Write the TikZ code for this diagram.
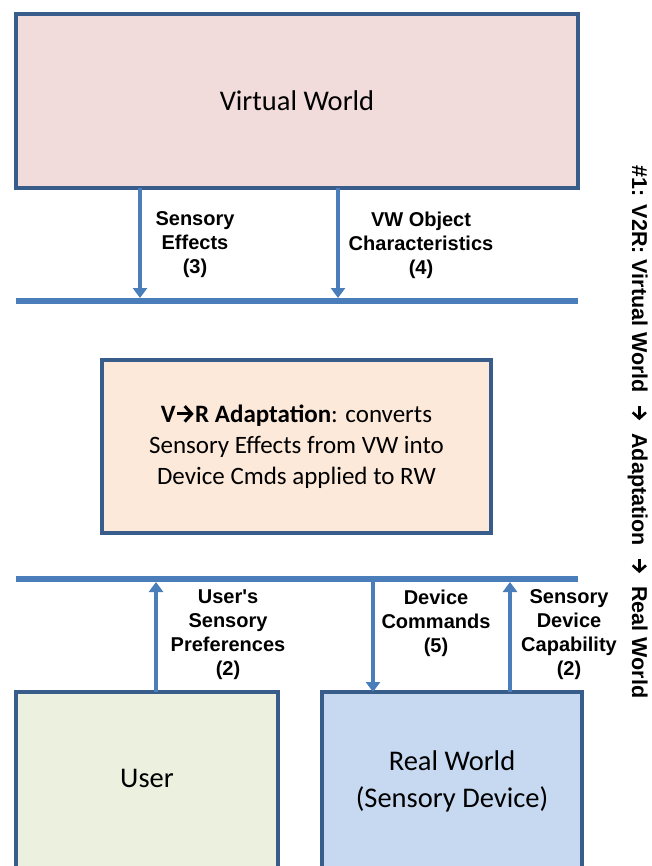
\documentclass[tikz,border=0pt]{standalone}
\usepackage{fontspec}
\setmainfont{Carlito}
\newfontfamily\lblfont{Liberation Sans}
\usepackage{xcolor}
\usetikzlibrary{arrows.meta,positioning}

\definecolor{boxline}{HTML}{385D8A}
\definecolor{busblue}{HTML}{4A7EBB}
\definecolor{vwfill}{HTML}{F2DCDB}
\definecolor{adfill}{HTML}{FDE9D9}
\definecolor{userfill}{HTML}{EBF1DE}
\definecolor{rwfill}{HTML}{C6D9F1}
\newcommand{\rarr}{\tikz[baseline=-0.34em]\draw[line width=0.12em, -{Straight Barb[length=0.28em,width=0.62em]}] (0,0) -- (0.66em,0);}

\begin{document}
\begin{tikzpicture}[x=1pt,y=-1pt,
		box/.style={draw=boxline, line width=4.5pt, inner sep=0pt, outer sep=0pt},
		bigtext/.style={font=\fontsize{28.5}{37}\selectfont, align=center},
		bus/.style={draw=busblue, line width=6pt},
		flow/.style={draw=busblue, line width=4pt, -{Triangle[width=14pt,length=10pt]}},
		lbl/.style={font=\lblfont\bfseries\fontsize{20}{24}\selectfont, align=center}]
		\useasboundingbox (0,0) rectangle (651,866);
		\clip (0,0) rectangle (651,866);

		\node[box, fill=vwfill, minimum width=562pt, minimum height=174pt, bigtext] (vw) at (297,101) {Virtual World};

		\coordinate (topbusL) at (16,301);
		\coordinate (topbusR) at (578,301);
		\draw[bus] (topbusL) -- (topbusR);
		\coordinate (effIn) at (140,298);
		\coordinate (objIn) at (338,298);
		\draw[flow] (vw.south -| effIn) -- (effIn);
		\draw[flow] (vw.south -| objIn) -- (objIn);
		\node[lbl] (effLbl) at (195,245) {Sensory\\Effects\\(3)};
		\node[lbl] (objLbl) at (421,245) {VW Object\\Characteristics\\(4)};

		\node[box, fill=adfill, minimum width=389pt, minimum height=173pt, font=\fontsize{25}{31}\selectfont, align=center] (adapt) at (296.5,446.5)
			{\textbf{V\rarr R Adaptation}: converts\\Sensory Effects from VW into\\Device Cmds applied to RW};

		\coordinate (botbusL) at (16,579);
		\coordinate (botbusR) at (578,579);
		\draw[bus] (botbusL) -- (botbusR);

		\node[box, fill=userfill, minimum width=262pt, minimum height=220pt, anchor=north] (user) at (147,692) {};
		\node[box, fill=rwfill, minimum width=260pt, minimum height=220pt, anchor=north] (rw) at (452,692) {};
		\node[bigtext] (usertxt) at (147,778) {User};
		\node[bigtext] (rwtxt) at (452,781) {Real World\\(Sensory Device)};

		\coordinate (prefOut) at (156,582);
		\coordinate (cmdOut) at (373,582);
		\coordinate (capOut) at (510,582);
		\draw[flow] (user.north -| prefOut) -- (prefOut);
		\draw[flow] (cmdOut) -- (rw.north -| cmdOut);
		\draw[flow] (rw.north -| capOut) -- (capOut);
		\node[lbl] (prefLbl) at (228,635) {User{\char39}s\\Sensory\\Preferences\\(2)};
		\node[lbl] (cmdLbl) at (436,623) {Device\\Commands\\(5)};
		\node[lbl] (capLbl) at (569,635) {Sensory\\Device\\Capability\\(2)};

		\node[font=\lblfont\bfseries\fontsize{21.5}{25}\selectfont, rotate=-90, anchor=base] (title) at (632,432)
			{\#1: V2R: Virtual World~ \rarr~ Adaptation~ \rarr~ Real World};
	\end{tikzpicture}
\end{document}
